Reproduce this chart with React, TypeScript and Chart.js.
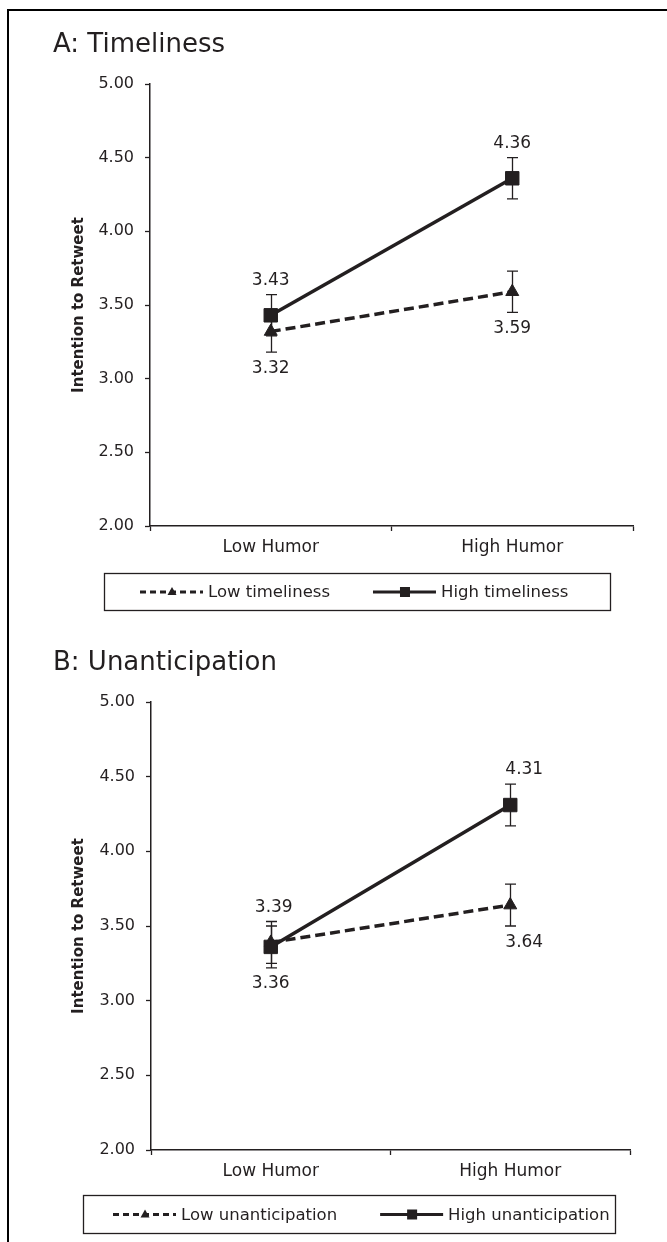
import React, { useEffect, useRef } from 'react';
import { Chart, registerables } from 'chart.js';

Chart.register(...registerables);

// ---------- data ----------
const categories = ['Low Humor', 'High Humor'];
const yAxisTitle = 'Intention to Retweet';
const yMin = 2;
const yMax = 5;
const yStep = 0.5;

// Panel A
const titleA = 'A: Timeliness';
const seriesA = ['Low timeliness', 'High timeliness'];
const lowTimeliness = [3.32, 3.59];
const highTimeliness = [3.43, 4.36];
const lowTimelinessErr = [0.14, 0.14];
const highTimelinessErr = [0.14, 0.14];

// Panel B
const titleB = 'B: Unanticipation';
const seriesB = ['Low unanticipation', 'High unanticipation'];
const lowUnanticipation = [3.39, 3.64];
const highUnanticipation = [3.36, 4.31];
const lowUnanticipationErr = [0.14, 0.14];
const highUnanticipationErr = [0.14, 0.14];

// ---------- styles ----------
const FONT = '"DejaVu Sans", sans-serif';
const INK = '#231f20';
const CANVAS_W = 667;
const CANVAS_H = 621;

const panels = [
  {
    title: titleA,
    series: seriesA,
    values: [lowTimeliness, highTimeliness],
    errors: [lowTimelinessErr, highTimelinessErr],
    labelShift: [[0, 0], [0, 0]],
    top: 0,
    area: { top: 84, bottom: 526, left: 150, right: 633 },
    titlePos: { x: 53, y: 52 },
    legend: { left: 104, width: 506, top: 573, height: 37, padLeft: 36 },
  },
  {
    title: titleB,
    series: seriesB,
    values: [lowUnanticipation, highUnanticipation],
    errors: [lowUnanticipationErr, highUnanticipationErr],
    labelShift: [[3, 14], [0, 14]],
    top: 621,
    area: { top: 81, bottom: 529, left: 151, right: 630 },
    titlePos: { x: 53, y: 49 },
    legend: { left: 83, width: 532, top: 574, height: 38, padLeft: 30 },
  },
];

// ---------- plugins ----------
const errorBarPlugin = {
  id: 'errorBars',
  beforeDatasetsDraw(chart: any, _a: any, opts: any) {
    const { ctx } = chart;
    const y = chart.scales.y;
    ctx.save();
    ctx.strokeStyle = INK;
    ctx.lineWidth = 1.3;
    chart.data.datasets.forEach((ds: any, di: number) => {
      const meta = chart.getDatasetMeta(di);
      ds.data.forEach((v: number, i: number) => {
        const e = opts.errors[di][i];
        const px = Math.round(meta.data[i].x) + 0.5;
        const t = y.getPixelForValue(v + e);
        const b = y.getPixelForValue(v - e);
        ctx.beginPath();
        ctx.moveTo(px, t);
        ctx.lineTo(px, b);
        ctx.moveTo(px - 5.5, t);
        ctx.lineTo(px + 5.5, t);
        ctx.moveTo(px - 5.5, b);
        ctx.lineTo(px + 5.5, b);
        ctx.stroke();
      });
    });
    ctx.restore();
  },
};

const valueLabelPlugin = {
  id: 'valueLabels',
  afterDatasetsDraw(chart: any, _a: any, opts: any) {
    const { ctx } = chart;
    const sets = chart.data.datasets;
    ctx.save();
    ctx.font = `17px ${FONT}`;
    ctx.fillStyle = INK;
    ctx.textAlign = 'center';
    ctx.textBaseline = 'middle';
    sets.forEach((ds: any, di: number) => {
      const meta = chart.getDatasetMeta(di);
      ds.data.forEach((v: number, i: number) => {
        const others = sets.filter((_: any, k: number) => k !== di).map((o: any) => o.data[i]);
        const above = others.every((o: number) => v >= o);
        const pt = meta.data[i];
        const ty = above ? pt.y - 35 : pt.y + 37;
        const dx = opts.shift ? opts.shift[di][i] : 0;
        ctx.fillText(v.toFixed(2), pt.x + dx, ty);
      });
    });
    ctx.restore();
  },
};

const panelTitlePlugin = {
  id: 'panelTitle',
  afterDraw(chart: any, _a: any, opts: any) {
    const { ctx } = chart;
    ctx.save();
    ctx.font = `26px ${FONT}`;
    ctx.fillStyle = INK;
    ctx.textAlign = 'left';
    ctx.textBaseline = 'alphabetic';
    ctx.fillText(opts.text, opts.x, opts.y);
    ctx.restore();
  },
};

const boxLegendPlugin = {
  id: 'boxLegend',
  afterDraw(chart: any, _a: any, opts: any) {
    const { ctx } = chart;
    const { left, width, top, height, padLeft } = opts;
    ctx.save();
    ctx.strokeStyle = INK;
    ctx.lineWidth = 1.3;
    ctx.strokeRect(left + 0.5, top + 0.5, width, height);
    const cy = top + height / 2 + 0.5;
    ctx.font = `16.5px ${FONT}`;
    ctx.textBaseline = 'middle';
    ctx.textAlign = 'left';
    let x = left + padLeft;
    chart.data.datasets.forEach((ds: any) => {
      ctx.beginPath();
      ctx.strokeStyle = INK;
      ctx.lineWidth = 3;
      ctx.setLineDash(ds.borderDash && ds.borderDash.length ? [6, 4] : []);
      ctx.moveTo(x, cy);
      ctx.lineTo(x + 63, cy);
      ctx.stroke();
      ctx.setLineDash([]);
      const mx = x + 32;
      ctx.fillStyle = INK;
      if (ds.pointStyle === 'triangle') {
        ctx.beginPath();
        ctx.moveTo(mx, cy - 5);
        ctx.lineTo(mx + 4.5, cy + 3);
        ctx.lineTo(mx - 4.5, cy + 3);
        ctx.closePath();
        ctx.fill();
      } else {
        ctx.fillRect(mx - 5, cy - 5, 10, 10);
      }
      ctx.fillText(ds.label, x + 68, cy + 1);
      x += 68 + ctx.measureText(ds.label).width + 43;
    });
    ctx.restore();
  },
};

function buildConfig(p: any): any {
  const a = p.area;
  return {
    type: 'line',
    data: {
      labels: categories,
      datasets: [
        {
          label: p.series[0],
          data: p.values[0],
          borderColor: INK,
          backgroundColor: INK,
          borderWidth: 3.5,
          borderDash: [10, 5],
          pointStyle: 'triangle',
          pointRadius: 7.5,
          pointBackgroundColor: INK,
          pointBorderColor: INK,
          pointBorderWidth: 1,
          tension: 0,
          order: 1,
        },
        {
          label: p.series[1],
          data: p.values[1],
          borderColor: INK,
          backgroundColor: INK,
          borderWidth: 3.5,
          pointStyle: 'rect',
          pointRadius: 9.5,
          pointBackgroundColor: INK,
          pointBorderColor: INK,
          pointBorderWidth: 1,
          tension: 0,
          order: 0,
        },
      ],
    },
    options: {
      responsive: false,
      animation: false,
      devicePixelRatio: 1,
      layout: {
        padding: {
          top: a.top,
          left: 0,
          right: CANVAS_W - a.right,
          bottom: CANVAS_H - a.bottom - 40,
        },
      },
      plugins: {
        legend: { display: false },
        tooltip: { enabled: false },
        title: { display: false },
        errorBars: { errors: p.errors },
        valueLabels: { shift: p.labelShift },
        panelTitle: { text: p.title, x: p.titlePos.x, y: p.titlePos.y },
        boxLegend: p.legend,
      },
      scales: {
        x: {
          type: 'category',
          offset: true,
          grid: {
            offset: true,
            drawOnChartArea: false,
            drawTicks: true,
            tickLength: 5,
            tickColor: INK,
            tickWidth: 1.3,
          },
          border: { color: INK, width: 1.5 },
          ticks: {
            font: { family: FONT, size: 17 },
            color: INK,
            padding: 6,
            maxRotation: 0,
            autoSkip: false,
          },
          afterFit: (s: any) => {
            s.height = 40;
          },
        },
        y: {
          min: yMin,
          max: yMax,
          ticks: {
            stepSize: yStep,
            callback: (v: any) => Number(v).toFixed(2),
            font: { family: FONT, size: 16 },
            color: INK,
            padding: 11,
          },
          grid: {
            drawOnChartArea: false,
            drawTicks: true,
            tickLength: 5,
            tickColor: INK,
            tickWidth: 1.3,
          },
          border: { color: INK, width: 1.5 },
          title: {
            display: true,
            text: yAxisTitle,
            color: INK,
            font: { family: FONT, size: 15, weight: 'bold', lineHeight: 1.2 },
            padding: { top: 70, bottom: 0 },
          },
          afterFit: (s: any) => {
            s.width = a.left;
          },
        },
      },
    },
    plugins: [errorBarPlugin, valueLabelPlugin, panelTitlePlugin, boxLegendPlugin],
  };
}

function Panel({ spec }: { spec: any }) {
  const ref = useRef<HTMLCanvasElement>(null);
  useEffect(() => {
    const chart = new Chart(ref.current as HTMLCanvasElement, buildConfig(spec));
    return () => chart.destroy();
  }, [spec]);
  return (
    <canvas
      ref={ref}
      width={CANVAS_W}
      height={CANVAS_H}
      style={{ position: 'absolute', left: 0, top: spec.top, width: CANVAS_W, height: CANVAS_H }}
    />
  );
}

export default function App() {
  return (
    <div style={{ position: 'absolute', left: 0, top: 0, width: 667, height: 1242, background: '#fff', overflow: 'hidden' }}>
      <div
        style={{
          position: 'absolute',
          left: 7,
          top: 9,
          width: 700,
          height: 1300,
          borderTop: '2px solid #000',
          borderLeft: '2px solid #000',
        }}
      />
      {panels.map((p, i) => (
        <Panel key={i} spec={p} />
      ))}
    </div>
  );
}
